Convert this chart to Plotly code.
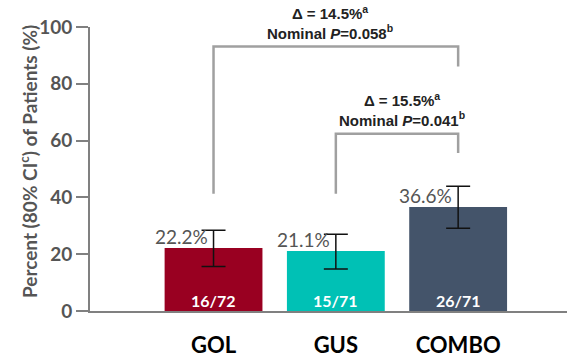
import plotly.graph_objects as go

# Response rates by treatment arm
arms = ["GOL", "GUS", "COMBO"]
pct = [22.2, 21.1, 36.6]
ci_low = [15.7, 14.8, 29.1]
ci_high = [28.4, 27.0, 43.9]
counts = ["16/72", "15/71", "26/71"]
colors = ["#990021", "#00C1B5", "#44546A"]

# Pairwise comparisons vs COMBO: (reference arm index, delta text, p text, bracket top, right end)
comparisons = [
    (0, "Δ = 14.5%<sup>a</sup>", "Nominal <i>P</i>=0.058<sup>b</sup>", 93.1, 86.1),
    (1, "Δ = 15.5%<sup>a</sup>", "Nominal <i>P</i>=0.041<sup>b</sup>", 62.4, 55.6),
]
bracket_base = 41.3

xs = list(range(len(arms)))

W, H = 567, 358
ML, MR, MT, MB = 90, 0, 27, 45
pw, ph = W - ML - MR, H - MT - MB

fig = go.Figure()
fig.add_trace(go.Bar(
    x=xs, y=pct, width=0.8,
    marker=dict(color=colors, line=dict(width=0)),
    error_y=dict(
        type="data", symmetric=False,
        array=[h - p for h, p in zip(ci_high, pct)],
        arrayminus=[p - l for l, p in zip(ci_low, pct)],
        color="#111111", thickness=1.5, width=12,
    ),
    hoverinfo="skip",
))

GRAY = "#555555"
annotations = []
for i, (p, c) in enumerate(zip(pct, counts)):
    annotations.append(dict(
        x=i, y=p, xref="x", yref="y", text=f"{p:.1f}%",
        showarrow=False, xanchor="right", yanchor="bottom",
        xshift=-4, yshift=-2,
        font=dict(family="Lato", size=19, color=GRAY),
    ))
    annotations.append(dict(
        x=i, y=0, xref="x", yref="y", text=f"<b>{c}</b>",
        showarrow=False, xanchor="center", yanchor="bottom", yshift=-1,
        font=dict(family="Lato", size=16, color="white"),
    ))

shapes = []
target = 2
for ref, dtxt, ptxt, top, right_end in comparisons:
    path = (f"M {ref} {bracket_base} L {ref} {top} "
            f"L {target} {top} L {target} {right_end}")
    shapes.append(dict(type="path", path=path, xref="x", yref="y",
                       line=dict(color="#A0A0A0", width=2.5)))
    annotations.append(dict(
        x=(ref + target) / 2 + (0.04 if ref == 1 else -0.05), y=top,
        xref="x", yref="y",
        text=f"<b>{dtxt}</b><br><b>{ptxt}</b>",
        showarrow=False, xanchor="center", yanchor="bottom", yshift=3,
        font=dict(family="Liberation Sans", size=15, color="#222222"),
    ))

# Rotated y-axis title, placed in pixel terms then converted to paper units
title_px_x, title_px_y = 28, 163
annotations.append(dict(
    x=(title_px_x - ML) / pw, y=(H - MB - title_px_y) / ph,
    xref="paper", yref="paper", showarrow=False,
    text="<b>Percent (80% CI<sup>c</sup>) of Patients (%)</b>",
    textangle=-90, xanchor="center", yanchor="middle",
    font=dict(family="Lato", size=19, color=GRAY),
))

fig.update_layout(
    width=W, height=H,
    margin=dict(l=ML, r=MR, t=MT, b=MB, pad=0),
    paper_bgcolor="white", plot_bgcolor="white",
    showlegend=False,
    shapes=shapes, annotations=annotations,
    xaxis=dict(
        range=[-1.01, 2.89], tickvals=xs, ticktext=[f"<b>{a}</b>" for a in arms],
        showgrid=False, zeroline=False, showline=True,
        linecolor="#808080", linewidth=2, ticks="",
        tickfont=dict(family="Lato", size=22, color="black"),
        ticklabelstandoff=14,
    ),
    yaxis=dict(
        range=[0, 100], tickvals=[0, 20, 40, 60, 80, 100],
        showgrid=False, zeroline=False, showline=True,
        linecolor="#808080", linewidth=2,
        ticks="outside", ticklen=12, tickwidth=2, tickcolor="#808080",
        tickfont=dict(family="Lato", size=19, color=GRAY, weight="bold"),
    ),
)

fig.write_html("out.html")
